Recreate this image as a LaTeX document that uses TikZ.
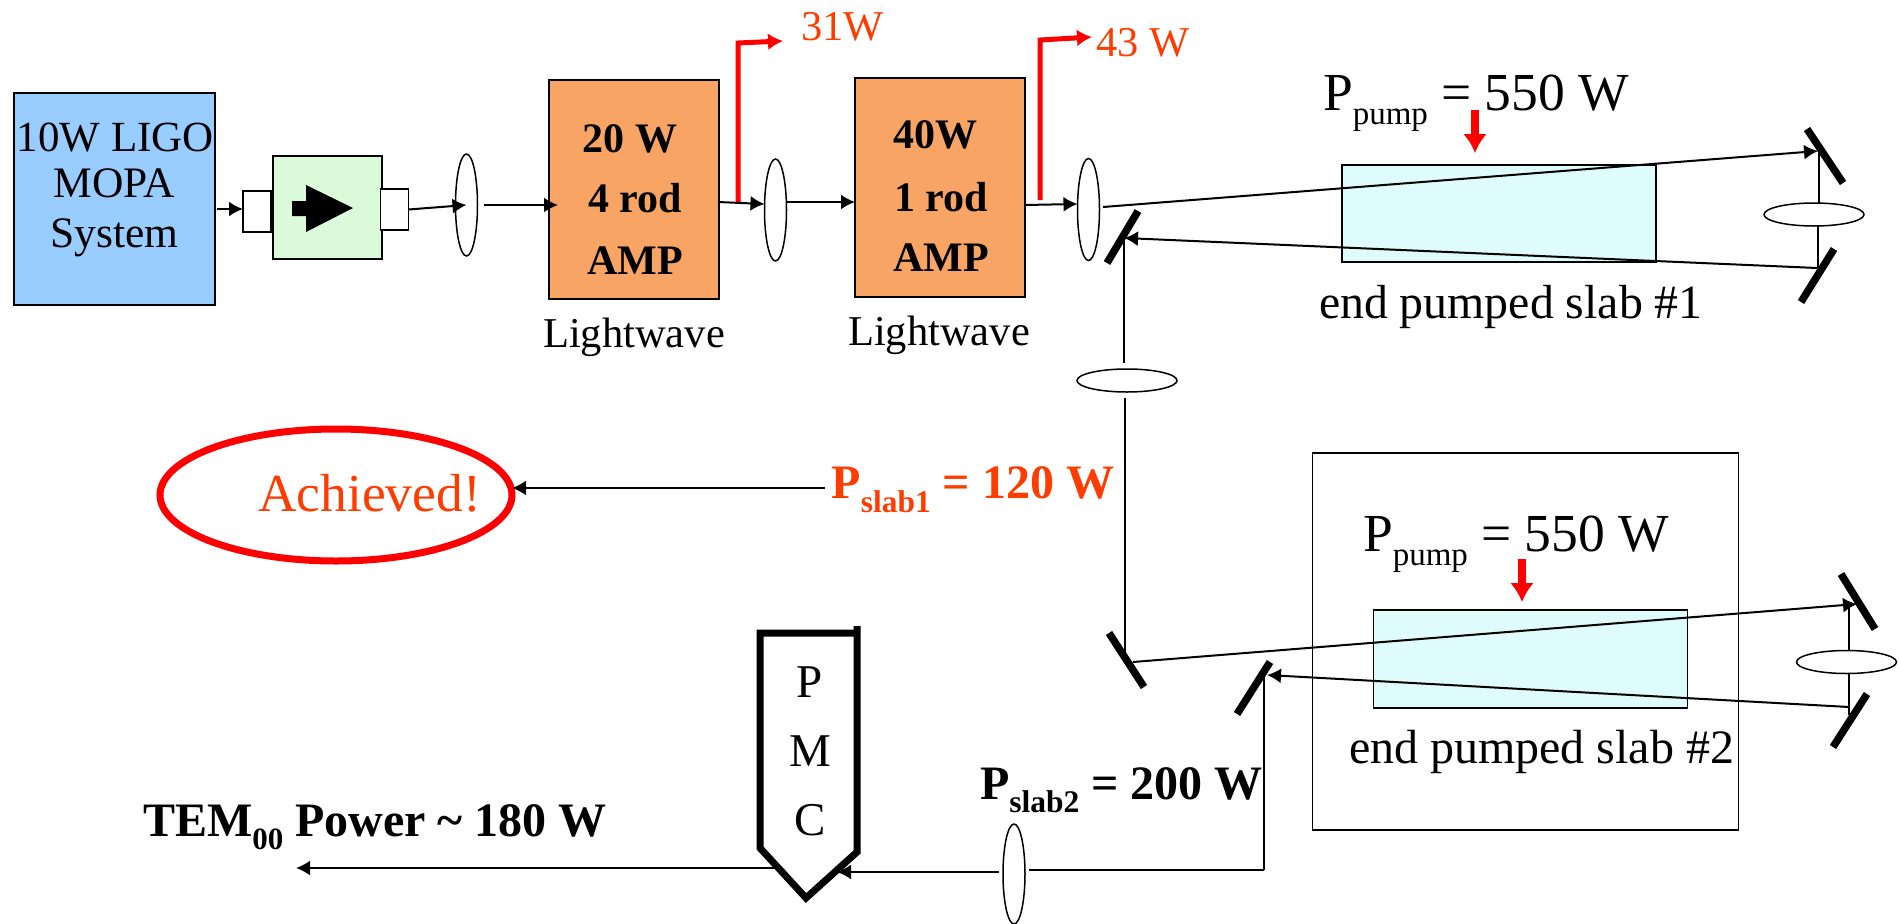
\documentclass[tikz,border=0pt]{standalone}
\usepackage{xcolor}
\usepackage{fontspec}
\setmainfont{Liberation Serif}
\usepackage{tikz}
\usetikzlibrary{shapes.geometric, arrows.meta, positioning}

\definecolor{mopablue}{RGB}{153,204,255}
\definecolor{isogreen}{RGB}{218,250,218}
\definecolor{ampfill}{RGB}{247,164,100}
\definecolor{slabfill}{RGB}{222,252,252}
\definecolor{hotred}{RGB}{255,0,0}
\definecolor{labelred}{RGB}{255,60,0}

\newcommand{\sz}[1]{\fontsize{#1}{#1}\selectfont}
\newcommand{\lowsub}[3]{\raisebox{-#1pt}{\sz{#2}#3}}

\begin{document}
\begin{tikzpicture}[
    x=1pt, y=-1pt,
    every node/.style={inner sep=0pt, outer sep=0pt},
    sqbox/.style={rectangle, draw=black, line width=1.6pt, align=center},
    mopa/.style={sqbox, fill=mopablue, minimum width=201pt, minimum height=212pt},
    port/.style={sqbox, fill=white, minimum width=28pt, minimum height=41pt},
    iso/.style={sqbox, fill=isogreen, minimum width=109pt, minimum height=103pt},
    amp/.style={sqbox, fill=ampfill, line width=2pt, minimum width=170pt, minimum height=219pt},
    slab/.style={sqbox, fill=slabfill, minimum width=314pt, minimum height=97pt},
    vlens/.style={ellipse, draw=black, fill=white, line width=1.5pt, minimum width=22pt, minimum height=102pt},
    hlens/.style={ellipse, draw=black, fill=white, line width=1.5pt, minimum width=100pt, minimum height=23pt},
    txt/.style={font=\sz{42.5}},
    bigtxt/.style={font=\sz{53.5}, anchor=base west},
    ampfont/.style={font=\bfseries\sz{42}},
    mirror/.style={line width=7.5pt},
    beam/.style={line width=2pt},
    thinline/.style={line width=1.2pt},
    arrow/.style={beam, -{Latex[length=14pt,width=15pt]}},
    tapoff/.style={draw=hotred, line width=5pt, -{Latex[length=15pt,width=17pt]}},
    pumparrow/.style={draw=hotred, line width=8pt, -{Latex[length=19pt,width=24pt]}}
]
\useasboundingbox (0,0) rectangle (1899,924);

% oscillator and isolator
\node[mopa] (mopa) at (114.5,199) {};
\node[anchor=base, font=\sz{43}] (mopa1) at (115.5,151) {10W LIGO};
\node[anchor=base, font=\sz{43.5}] (mopa2) at (114.5,197) {MOPA};
\node[anchor=base, font=\sz{43.5}] (mopa3) at (114.5,247) {System};
\node[port] (portL) at (257,211.5) {};
\node[iso] (iso) at (327.5,207.5) {};
\node[port] (portR) at (394.5,209.5) {};
\fill (292,201) -- (306,201) -- (306,185) -- (353,208) -- (306,232) -- (306,216) -- (292,216) -- cycle;

% amplifiers
\node[amp] (amp1) at (634,189.5) {};
\node[ampfont] (amp1a) at (630,139) {20 W};
\node[ampfont] (amp1b) at (635,198) {4 rod};
\node[ampfont] (amp1c) at (635,261) {AMP};
\node[txt, anchor=base] (wave1) at (634,347) {Lightwave};
\node[amp] (amp2) at (940,187.5) {};
\node[ampfont] (amp2a) at (935.5,135) {40W};
\node[ampfont] (amp2b) at (941,197) {1 rod};
\node[ampfont] (amp2c) at (941,258) {AMP};
\node[txt, anchor=base] (wave2) at (939,345) {Lightwave};

% tap-off arrows
\coordinate (tapA) at (738,203);
\coordinate (tapAt) at (738,43);
\coordinate (tapAe) at (783,41);
\coordinate (tapB) at (1040,200);
\coordinate (tapBt) at (1040,40);
\coordinate (tapBe) at (1092,37);
\draw[tapoff] (tapA) -- (tapAt) -- (tapAe);
\draw[tapoff] (tapB) -- (tapBt) -- (tapBe);
\node[txt, text=labelred, anchor=base west] (lab31) at (801,40) {31W};
\node[txt, text=labelred, anchor=base west] (lab43) at (1096,56) {43 W};

% slab 1
\node[slab] (slab1) at (1499,213.5) {};
\node[bigtxt] (pump1) at (1323,110) {P\lowsub{14}{33}{pump} = 550 W};
\node[anchor=base west, font=\sz{47.8}] (slabname1) at (1319,318) {end pumped slab \#1};
\coordinate (pumpA) at (1475,110);
\coordinate (pumpAe) at (1475,153);
\draw[pumparrow] (pumpA) -- (pumpAe);

% slab 2
\node[sqbox, minimum width=426pt, minimum height=377pt] (enclosure) at (1525.5,641.5) {};
\node[slab, minimum height=98pt] (slab2) at (1530.5,659) {};
\node[bigtxt] (pump2) at (1363,551) {P\lowsub{14}{33}{pump} = 550 W};
\node[anchor=base west, font=\sz{48}] (slabname2) at (1349,763) {end pumped slab \#2};
\coordinate (pumpB) at (1522,559);
\coordinate (pumpBe) at (1522,602);
\draw[pumparrow] (pumpB) -- (pumpBe);

% beam end points
\coordinate (amp1in) at (558,205);
\coordinate (amp1out) at (718,202);
\coordinate (amp2in) at (855,202);
\coordinate (amp2out) at (1025,205);
\coordinate (b1a) at (1103,207);
\coordinate (b1b) at (1818,151);
\coordinate (b1c) at (1817,268);
\coordinate (b1d) at (1124,238);
\coordinate (b1e) at (1125,656);
\coordinate (m1a) at (1819,153);
\coordinate (m1b) at (1818,268);
\coordinate (b2a) at (1133,662);
\coordinate (b2b) at (1857,604);
\coordinate (b2c) at (1849,707);
\coordinate (b2d) at (1267,675);
\coordinate (m2a) at (1849,607);
\coordinate (m2b) at (1849,715);
\coordinate (b2e) at (1264,668);
\coordinate (b2f) at (1264,870);
\coordinate (pmcin) at (837,872);
\coordinate (pmcout) at (775,868);
\coordinate (tem) at (296,868);

% lenses
\node[vlens] (lens1) at (466.5,205) {};
\node[vlens] (lens2) at (775.5,210) {};
\node[vlens] (lens3) at (1088.5,209.5) {};
\node[vlens, minimum height=100pt] (lens4) at (1014,874) {};
\node[hlens] (hlens1) at (1814,214.5) {};
\node[hlens] (hlens2) at (1127,380.5) {};
\node[hlens] (hlens3) at (1846.5,662) {};

% connectors
\draw[arrow] ([xshift=2pt]mopa.east |- 0,209) -- (portL.west |- 0,209);
\draw[arrow] (portR.east) -- (lens1.center);
\draw[arrow] ([xshift=6pt]lens1.east) -- (amp1in);
\draw[arrow] (amp1out) -- (lens2.west |- 0,204);
\draw[arrow] (lens2.east |- amp2in) -- (amp2in);
\draw[arrow] (amp2out) -- (lens3.west |- 0,204);
\draw[arrow] (b1a) -- (b1b);
\draw[arrow] (b1c) -- (b1d);
\draw[thinline] (m1a) -- (m1a |- hlens1.north);
\draw[thinline] (m1b |- hlens1.south) -- (m1b);
\draw[thinline, shorten >=6pt] (b1d) -- (b1d |- hlens2.north);
\draw[thinline, shorten <=6pt] (b1e |- hlens2.south) -- (b1e);
\draw[arrow] (b2a) -- (b2b);
\draw[arrow] (b2c) -- (b2d);
\draw[thinline] (m2a) -- (m2a |- hlens3.north);
\draw[thinline] (m2b |- hlens3.south) -- (m2b);
\draw[thinline] (b2e) -- (b2f);
\draw[beam, shorten >=4pt] (b2f) -- (lens4.east |- b2f);
\draw[arrow, shorten <=4pt] (lens4.west |- pmcin) -- (pmcin);
\draw[arrow] (pmcout) -- (tem);

% mirrors
\draw[mirror] (1807,129) -- (1843,183);
\draw[mirror] (1834,249) -- (1801,302);
\draw[mirror] (1138,211) -- (1107,263);
\draw[mirror] (1109,633) -- (1144,687);
\draw[mirror] (1841,574) -- (1875,629);
\draw[mirror] (1867,694) -- (1833,747);
\draw[mirror] (1270,662) -- (1237,714);

% result
\node[ellipse, draw=hotred, line width=7pt, minimum width=352pt, minimum height=132pt] (goal) at (336,495) {};
\node[anchor=base west, text=labelred, font=\sz{53.5}] (achieved) at (258,511) {Achieved!};
\node[anchor=base west, text=labelred, font=\bfseries\sz{48}] (slabp1) at (831.5,498) {P\lowsub{14}{31.5}{slab1} = 120 W};
\draw[arrow] (slabp1.west |- 0,488) ++(-7,0) -- (goal.east |- 0,488);
\node[anchor=base west, font=\bfseries\sz{48}] (slabp2) at (980,799) {P\lowsub{13}{31.5}{slab2} = 200 W};

% mode cleaner
\draw[line width=7pt, miter limit=2] (857,626) -- (857,852) -- (806,898) -- (760,848) -- (760,633) -- (857,633);
\node[align=center, font=\sz{47}] (pmc) at (810,751) {P\\[22pt]M\\[22pt]C};
\node[anchor=base west, font=\bfseries\sz{48}] (temlab) at (143,836) {TEM\lowsub{13}{31}{00} Power \textasciitilde{} 180 W};

\end{tikzpicture}
\end{document}
